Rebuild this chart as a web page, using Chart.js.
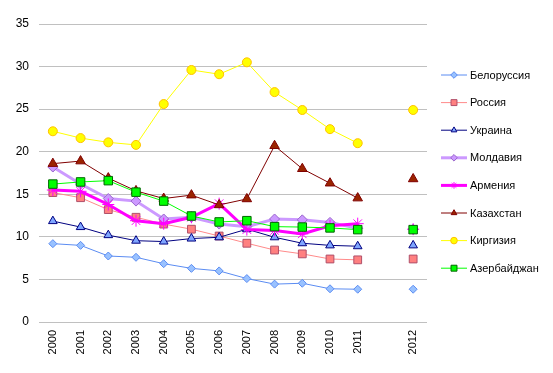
<!DOCTYPE html>
<html>
<head>
<meta charset="utf-8">
<script src="https://cdn.jsdelivr.net/npm/chart.js@4/dist/chart.umd.min.js"></script>
<style>
  html, body { margin: 0; padding: 0; background: #fff; }
  #wrap { width: 553px; height: 373px; }
</style>
</head>
<body>
<div id="wrap"><canvas id="chart" width="553" height="373"></canvas></div>
<script>
// Categories (one empty slot before 2012, like the original)
const years = ['2000', '2001', '2002', '2003', '2004', '2005', '2006', '2007', '2008', '2009', '2010', '2011', '', '2012'];
const yTicks = [0, 5, 10, 15, 20, 25, 30, 35];

// Series values
const belarus    = [9.2, 9.0, 7.75, 7.6, 6.85, 6.3, 6.0, 5.1, 4.45, 4.55, 3.9, 3.85, null, 3.85];
const russia     = [15.2, 14.6, 13.2, 12.3, 11.5, 10.9, 10.1, 9.25, 8.45, 8.0, 7.4, 7.3, null, 7.4];
const ukraine    = [11.85, 11.15, 10.2, 9.55, 9.45, 9.8, 9.95, 10.9, 9.95, 9.25, 9.0, 8.9, null, 9.0];
const moldova    = [18.2, 16.2, 14.5, 14.2, 12.1, 12.3, 11.5, 11.2, 12.1, 12.0, 11.7, 11.0, null, 10.9];
const armenia    = [15.5, 15.35, 13.8, 11.9, 11.55, 12.3, 13.9, 10.85, 10.75, 10.35, 11.3, 11.55, null, 10.9];
const kazakhstan = [18.6, 18.9, 16.9, 15.4, 14.5, 14.9, 13.75, 14.45, 20.7, 18.0, 16.3, 14.55, null, 16.8];
const kyrgyzstan = [22.4, 21.6, 21.1, 20.8, 25.6, 29.6, 29.1, 30.5, 27.0, 24.9, 22.65, 21.0, null, 24.9];
const azerbaijan = [16.2, 16.45, 16.6, 15.25, 14.2, 12.45, 11.75, 11.9, 11.2, 11.15, 11.05, 10.85, null, 10.85];

function series(label, data, line, lineWidth, style, fill, border, radius) {
    return {
        label: label,
        data: data,
        borderColor: line,
        borderWidth: lineWidth,
        pointStyle: style,
        pointBackgroundColor: fill,
        pointBorderColor: border,
        pointBorderWidth: 1,
        pointRadius: radius,
        pointHoverRadius: radius,
        tension: 0,
        spanGaps: false,
        fill: false
    };
}

const datasets = [
    series('Белоруссия', belarus, '#5b8cf2', 1, 'rectRot', '#99c2ff', '#5b8cf2', 4),
    series('Россия', russia, '#ff8a8a', 1, 'rect', '#ff8080', '#b0506a', 5.5),
    series('Украина', ukraine, '#000080', 1, 'triangle', '#7fa6ff', '#000080', 5),
    series('Молдавия', moldova, '#cc99ff', 3, 'rectRot', '#cc99ff', '#9966cc', 5),
    series('Армения', armenia, '#ff00ff', 3, 'star', '#ff00ff', '#ff00ff', 6),
    series('Казахстан', kazakhstan, '#800000', 1, 'triangle', '#9a2400', '#800000', 5.5),
    series('Киргизия', kyrgyzstan, '#ffff00', 1, 'circle', '#ffff00', '#ffc000', 4.5),
    series('Азербайджан', azerbaijan, '#00ff00', 1, 'rect', '#00ff00', '#006600', 6)
];
// later series sit on top, as in the original
datasets.forEach((ds, i) => { ds.order = datasets.length - i; });

// Legend on the right, line + marker like the original
const sideLegend = {
    id: 'sideLegend',
    afterDraw(chart) {
        const ctx = chart.ctx;
        const x0 = 441, x1 = 467, top = 75, step = 27.6;
        ctx.save();
        chart.data.datasets.forEach((ds, i) => {
            const y = top + i * step;
            ctx.strokeStyle = ds.borderColor;
            ctx.lineWidth = ds.borderWidth;
            ctx.beginPath();
            ctx.moveTo(x0, y);
            ctx.lineTo(x1, y);
            ctx.stroke();
            ctx.fillStyle = ds.pointBackgroundColor;
            ctx.strokeStyle = ds.pointBorderColor;
            ctx.lineWidth = 1;
            const r = ds.pointStyle === 'rect' ? 4.2 : 3.3;
            Chart.helpers.drawPoint(ctx, { pointStyle: ds.pointStyle, radius: r, rotation: 0, borderWidth: 1 }, (x0 + x1) / 2, y);
            ctx.fillStyle = '#000';
            ctx.font = '11px "Liberation Sans", Arial, sans-serif';
            ctx.textBaseline = 'middle';
            ctx.textAlign = 'left';
            ctx.fillText(ds.label, 470, y + 0.5);
        });
        ctx.restore();
    }
};

new Chart(document.getElementById('chart'), {
    type: 'line',
    data: { labels: years, datasets: datasets },
    options: {
        responsive: false,
        animation: false,
        layout: { padding: { top: 24, right: 126, bottom: 0, left: 0 } },
        plugins: {
            legend: { display: false },
            tooltip: { enabled: false }
        },
        scales: {
            x: {
                offset: true,
                grid: { display: false, drawTicks: false },
                border: { display: false },
                afterFit: (scale) => { scale.height = 51; },
                ticks: {
                    autoSkip: false,
                    maxRotation: 90,
                    minRotation: 90,
                    padding: 8,
                    color: '#000',
                    font: { family: '"Liberation Sans", Arial, sans-serif', size: 11 }
                }
            },
            y: {
                min: 0,
                max: 35,
                afterFit: (scale) => { scale.width = 39; },
                afterBuildTicks: (scale) => { scale.ticks = yTicks.map(v => ({ value: v })); },
                grid: { color: '#c0c0c0', drawTicks: false },
                border: { display: false },
                ticks: {
                    padding: 10,
                    color: '#000',
                    font: { family: '"Liberation Sans", Arial, sans-serif', size: 12 }
                }
            }
        }
    },
    plugins: [sideLegend]
});
</script>
</body>
</html>
